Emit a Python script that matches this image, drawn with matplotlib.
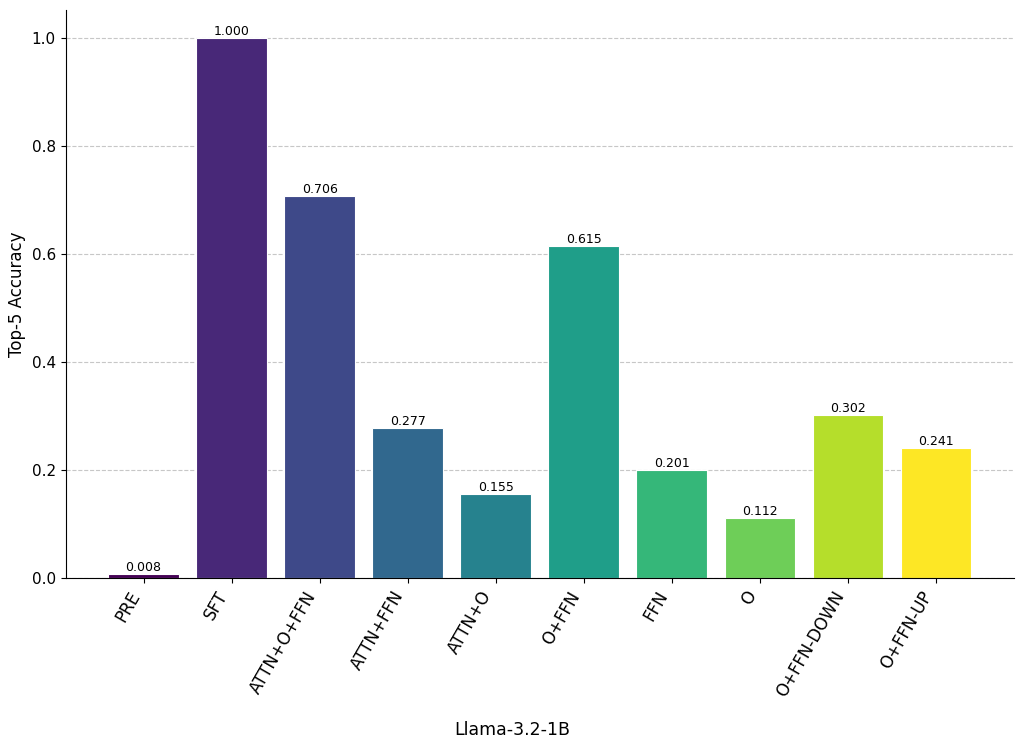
import numpy as np
import matplotlib.pyplot as plt

methods = ['PRE', 'SFT', 'ATTN+O+FFN', 'ATTN+FFN', 'ATTN+O', 'O+FFN',
           'FFN', 'O', 'O+FFN-DOWN', 'O+FFN-UP']
top5 = [0.008, 1.000, 0.706, 0.277, 0.155, 0.615, 0.201, 0.112, 0.302, 0.241]

fig, ax = plt.subplots(figsize=(10.24, 7.49), dpi=100)
fig.subplots_adjust(left=0.064, right=0.99, top=0.986, bottom=0.228)

colors = plt.cm.viridis(np.linspace(0, 1, len(methods)))
x = np.arange(len(methods))
bars = ax.bar(x, top5, width=0.8, color=colors, edgecolor='white', linewidth=0.8)

for b, v in zip(bars, top5):
    ax.text(b.get_x() + b.get_width() / 2, v, f'{v:.3f}',
            ha='center', va='bottom', fontsize=9)

ax.set_xticks(x)
ax.set_xticklabels(methods, rotation=60, ha='right', fontsize=12)
ax.tick_params(axis='y', labelsize=11)
ax.set_ylim(0, 1.05)
ax.set_xlim(-0.886, 9.886)
ax.set_ylabel('Top-5 Accuracy', fontsize=12)
# model name sits centred on the figure, not the axes
fig.text(0.5, 0.025, 'Llama-3.2-1B', ha='center', va='center', fontsize=12.5)

ax.grid(axis='y', linestyle='--', alpha=0.7)
ax.set_axisbelow(True)
ax.spines['top'].set_visible(False)
ax.spines['right'].set_visible(False)

plt.savefig('out.png')
